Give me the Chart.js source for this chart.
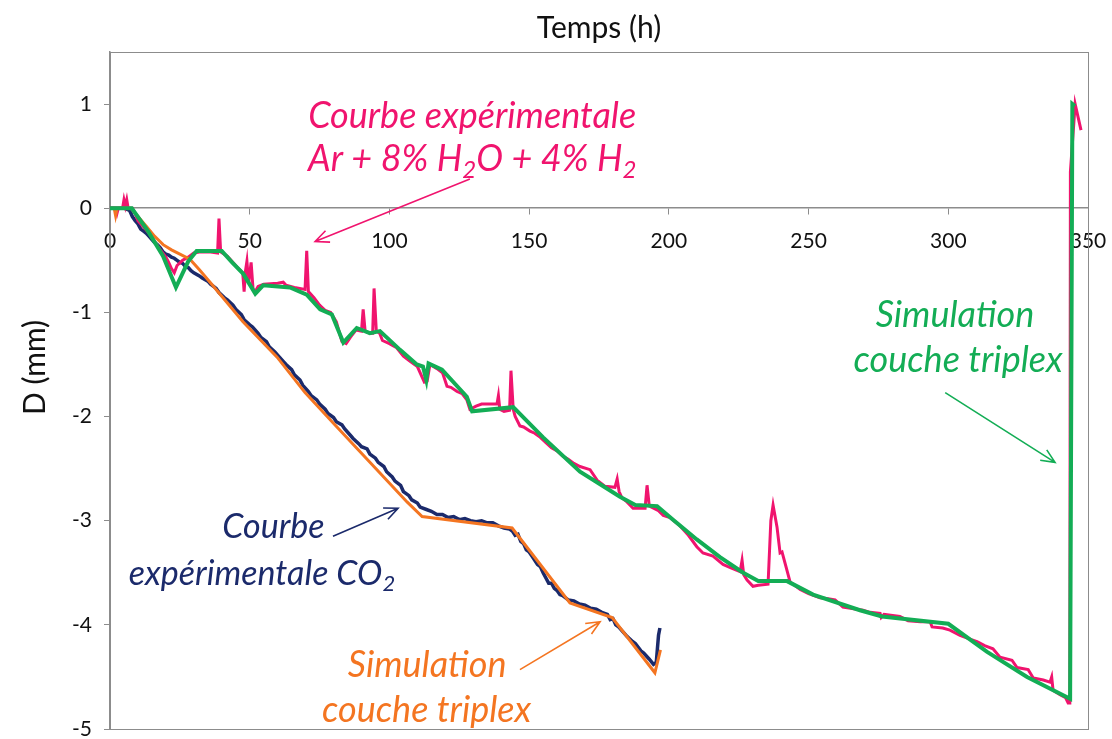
<!DOCTYPE html>
<html>
<head>
<meta charset="utf-8">
<script src="https://cdn.jsdelivr.net/npm/chart.js"></script>
<style>
  body { margin: 0; background: #ffffff; }
</style>
</head>
<body>
<canvas id="chart" width="1112" height="739"></canvas>
<script>
// tick labels
const timeTicks = [0, 50, 100, 150, 200, 250, 300, 350];
const depthTicks = [-5, -4, -3, -2, -1, 0, 1];

// [temps (h), D (mm)]
const simAr = [[0,0],[7.8,0],[13.6,-0.22],[19,-0.46],[23.6,-0.76],[28,-0.51],[31,-0.41],[40,-0.41],[43.7,-0.52],[47.7,-0.63],[52,-0.82],[54.8,-0.74],[64.4,-0.76],[70.4,-0.83],[75.2,-0.97],[79.4,-1.02],[83.5,-1.29],[88.3,-1.15],[93,-1.2],[96.6,-1.18],[103.8,-1.36],[109.8,-1.5],[112,-1.52],[113.2,-1.65],[114,-1.49],[118.8,-1.55],[127.7,-1.81],[129.6,-1.95],[144.3,-1.91],[155,-2.2],[168.2,-2.53],[175.4,-2.65],[182.5,-2.77],[188,-2.85],[195.8,-2.86],[201.5,-2.99],[210,-3.18],[218.3,-3.35],[226.6,-3.5],[232,-3.58],[242.3,-3.58],[251.6,-3.71],[268.4,-3.86],[276.3,-3.92],[300,-3.99],[313.9,-4.26],[328.2,-4.5],[343.6,-4.71],[344.4,1.0],[345.3,0.98]];

const expAr = [[0,0],[2,0],[2.5,-0.05],[3,0],[4.5,0],[5,0.08],[5.5,0.02],[6,0.08],[6.5,0],[8,0],[9,-0.05],[10,-0.12],[12,-0.18],[14,-0.24],[16,-0.32],[18,-0.4],[20,-0.47],[21,-0.52],[22,-0.58],[23,-0.62],[24,-0.55],[26,-0.5],[28,-0.47],[30,-0.43],[32,-0.42],[36,-0.42],[38.5,-0.43],[39,-0.1],[39.6,-0.42],[42,-0.46],[44,-0.52],[46,-0.58],[47.5,-0.62],[48,-0.8],[48.5,-0.6],[49,-0.51],[49.6,-0.72],[50.5,-0.52],[51.2,-0.78],[52,-0.8],[53,-0.75],[55,-0.73],[60,-0.72],[62,-0.71],[63,-0.74],[66,-0.76],[69.8,-0.78],[70.4,-0.41],[71,-0.8],[73,-0.86],[75,-0.93],[77,-0.98],[79,-1.0],[81,-1.09],[83,-1.28],[84.5,-1.3],[86,-1.24],[88,-1.17],[90,-1.18],[90.6,-0.97],[91.3,-1.18],[93,-1.2],[94,-1.2],[94.5,-0.77],[95.3,-1.18],[96.5,-1.2],[97.5,-1.27],[100,-1.3],[102.6,-1.34],[105,-1.42],[107.4,-1.47],[110,-1.52],[112.5,-1.67],[113.5,-1.66],[114.5,-1.5],[117,-1.54],[119,-1.58],[120.6,-1.71],[122,-1.72],[124.2,-1.76],[126,-1.78],[127.7,-1.84],[128.8,-1.93],[131,-1.9],[133,-1.88],[136,-1.88],[138.5,-1.88],[139,-1.8],[139.5,-1.93],[141,-1.95],[143,-1.94],[143.5,-1.56],[144.3,-1.93],[145,-2.0],[146.7,-2.09],[148,-2.1],[150.3,-2.14],[152,-2.16],[154,-2.2],[156,-2.25],[158,-2.3],[160,-2.33],[162,-2.38],[164,-2.41],[166,-2.45],[168.2,-2.48],[171.8,-2.51],[174.3,-2.61],[177.2,-2.67],[180.7,-2.68],[181.5,-2.6],[182.2,-2.72],[183.2,-2.78],[185,-2.82],[187.2,-2.88],[191.5,-2.88],[192.2,-2.66],[193,-2.86],[196.1,-2.9],[198,-2.95],[200.4,-2.97],[204,-3.05],[207,-3.14],[210,-3.25],[212.2,-3.31],[215.8,-3.34],[219.4,-3.42],[222,-3.45],[225.5,-3.49],[226.2,-3.38],[226.8,-3.52],[228,-3.57],[230.1,-3.63],[232,-3.62],[235.5,-3.61],[236.5,-3.0],[237.3,-2.85],[238.7,-3.06],[239.8,-3.31],[240.5,-3.3],[241.6,-3.41],[243.4,-3.59],[245,-3.62],[247,-3.66],[250,-3.7],[254.1,-3.74],[257,-3.75],[259.5,-3.76],[262.3,-3.83],[265,-3.84],[269.5,-3.86],[272,-3.88],[275.6,-3.89],[276,-3.93],[277,-3.9],[282.7,-3.92],[285.6,-3.96],[290,-3.97],[293.5,-3.97],[294.2,-4.02],[298,-4.03],[300.6,-4.05],[304.2,-4.1],[308,-4.14],[310.3,-4.16],[313,-4.2],[316,-4.23],[318.5,-4.31],[322.8,-4.34],[324.6,-4.41],[328.6,-4.43],[330.4,-4.51],[334,-4.53],[336.4,-4.55],[337,-4.5],[337.5,-4.63],[340,-4.67],[342,-4.7],[342.9,-4.75],[343.5,-4.75],[343.7,0.35],[345.4,1.0],[347.5,0.75]];

const simCO2 = [[0,0],[1.5,0],[2,-0.07],[2.5,0],[7.5,0],[10,-0.08],[13.2,-0.18],[16,-0.27],[19,-0.35],[22,-0.4],[25,-0.44],[28.6,-0.49],[32,-0.59],[35.8,-0.71],[47.6,-1.09],[59.8,-1.43],[69.8,-1.77],[79.8,-2.06],[106.3,-2.82],[111.7,-2.96],[143.9,-3.07],[164.6,-3.79],[179.7,-3.93],[195,-4.46],[197,-4.24]];

const expCO2 = [[0,0],[5,0],[7,-0.02],[8,-0.08],[9,-0.12],[10,-0.15],[11,-0.2],[12,-0.22],[13,-0.24],[14,-0.27],[15,-0.3],[16,-0.33],[17,-0.35],[18,-0.38],[19,-0.42],[20,-0.44],[21,-0.45],[22,-0.47],[23,-0.48],[24,-0.5],[25,-0.52],[26,-0.53],[27,-0.56],[28,-0.57],[29,-0.6],[30,-0.62],[32,-0.65],[33,-0.67],[35,-0.7],[36,-0.73],[38,-0.77],[39,-0.81],[41,-0.86],[42,-0.88],[44,-0.93],[45,-0.97],[47,-1.02],[48,-1.07],[50,-1.12],[51,-1.14],[53,-1.2],[54,-1.24],[56,-1.28],[57,-1.33],[59,-1.38],[60,-1.41],[62,-1.47],[63,-1.5],[65,-1.55],[66,-1.6],[68,-1.65],[69,-1.7],[71,-1.76],[72,-1.8],[74,-1.84],[75,-1.88],[77,-1.93],[78,-1.97],[80,-2.01],[81,-2.05],[83,-2.08],[84,-2.12],[86,-2.18],[87,-2.21],[89,-2.26],[90,-2.29],[92,-2.31],[93,-2.36],[95,-2.4],[96,-2.44],[98,-2.48],[99,-2.53],[101,-2.58],[102,-2.62],[104,-2.66],[105,-2.72],[107,-2.76],[108,-2.8],[110,-2.83],[111,-2.87],[113,-2.89],[115,-2.91],[117,-2.94],[119,-2.94],[121,-2.97],[123,-2.96],[125,-2.99],[127,-2.98],[129,-3.0],[131,-3.01],[133,-3.0],[135,-3.02],[137,-3.02],[139,-3.05],[141,-3.07],[143,-3.08],[144,-3.1],[145,-3.14],[146,-3.13],[147,-3.2],[148,-3.22],[149,-3.28],[150,-3.3],[151,-3.34],[152,-3.38],[153,-3.42],[154,-3.44],[155,-3.5],[156,-3.55],[157,-3.6],[158,-3.6],[159,-3.65],[160,-3.67],[161,-3.71],[162,-3.72],[164,-3.76],[166,-3.77],[168,-3.8],[170,-3.81],[172,-3.84],[174,-3.85],[176,-3.88],[178,-3.9],[179,-3.95],[180,-3.94],[181,-4.0],[182,-4.02],[184,-4.08],[185,-4.11],[187,-4.16],[188,-4.18],[190,-4.25],[191,-4.27],[193,-4.33],[194.5,-4.38],[195.5,-4.36],[196.3,-4.1],[196.8,-4.03]];

const PINK = "#f0146e";
const GREEN = "#13ad55";
const NAVY = "#1b2a6b";
const ORANGE = "#f47521";
const AXIS = "#8c8c8c";
const FONT = "Lato";

// text labels + arrows, placed in data units
const notes = [
  { color: PINK, size: 36, lines: [[129.6, 0.885, [["Courbe expérimentale", 0]]],
                         [129.6, 0.47, [["Ar + 8% H", 0], ["2", 1], ["O + 4% H", 0], ["2", 1]]]],
    arrow: [128.8, 0.28, 73.4, -0.32] },
  { color: GREEN, size: 36, lines: [[302.4, -1.03, [["Simulation", 0]]],
                          [303.5, -1.46, [["couche triplex", 0]]]],
    arrow: [298.9, -1.77, 338.2, -2.44] },
  { color: NAVY, size: 34, lines: [[58.5, -3.06, [["Courbe", 0]]],
                         [54.4, -3.51, [["expérimentale CO", 0], ["2", 1]]]],
    arrow: [79.8, -3.15, 103.1, -2.88] },
  { color: ORANGE, size: 36, lines: [[113.5, -4.39, [["Simulation", 0]]],
                           [113.3, -4.82, [["couche triplex", 0]]]],
    arrow: [146.7, -4.43, 175.4, -3.97] },
];

function drawRuns(ctx, runs, cx, cy, size, color) {
  const main = "italic " + size + "px " + FONT;
  const small = "italic " + Math.round(size * 0.66) + "px " + FONT;
  let w = 0;
  runs.forEach(([t, s]) => { ctx.font = s ? small : main; w += ctx.measureText(t).width; });
  let x = cx - w / 2;
  ctx.fillStyle = color;
  ctx.textAlign = "left";
  ctx.textBaseline = "middle";
  runs.forEach(([t, s]) => {
    ctx.font = s ? small : main;
    ctx.fillText(t, x, s ? cy + size * 0.3 : cy);
    x += ctx.measureText(t).width;
  });
}

function drawArrow(ctx, x1, y1, x2, y2, color) {
  const a = Math.atan2(y2 - y1, x2 - x1), h = 15, sp = 0.42;
  ctx.strokeStyle = color;
  ctx.lineWidth = 1.6;
  ctx.beginPath();
  ctx.moveTo(x1, y1);
  ctx.lineTo(x2, y2);
  ctx.moveTo(x2 - h * Math.cos(a - sp), y2 - h * Math.sin(a - sp));
  ctx.lineTo(x2, y2);
  ctx.lineTo(x2 - h * Math.cos(a + sp), y2 - h * Math.sin(a + sp));
  ctx.stroke();
}

const notesPlugin = {
  id: "notes",
  beforeDatasetsDraw(chart) {
    const { ctx, chartArea: a } = chart;
    ctx.save();
    // plot frame
    ctx.strokeStyle = AXIS;
    ctx.lineWidth = 1;
    ctx.strokeRect(a.left + 0.5, a.top + 0.5, a.right - a.left, a.bottom - a.top);
    // y axis title, sits a bit above the middle like the original
    ctx.translate(35, (a.top + a.bottom) / 2 - 23);
    ctx.rotate(-Math.PI / 2);
    ctx.fillStyle = "#111";
    ctx.font = "30px " + FONT;
    ctx.textAlign = "center";
    ctx.textBaseline = "middle";
    ctx.fillText("D (mm)", 0, 0);
    ctx.restore();
  },
  afterDatasetsDraw(chart) {
    const { ctx, scales: { x, y } } = chart;
    ctx.save();
    notes.forEach(n => {
      n.lines.forEach(([lx, ly, runs]) => drawRuns(ctx, runs, x.getPixelForValue(lx), y.getPixelForValue(ly), n.size, n.color));
      const [ax1, ay1, ax2, ay2] = n.arrow;
      drawArrow(ctx, x.getPixelForValue(ax1), y.getPixelForValue(ay1), x.getPixelForValue(ax2), y.getPixelForValue(ay2), n.color);
    });
    ctx.restore();
  }
};

function series(data, color, width) {
  return { data: data, borderColor: color, backgroundColor: color, borderWidth: width,
           pointRadius: 0, tension: 0, fill: false };
}

function noPad(s) {
  s.paddingLeft = 0; s.paddingRight = 0; s.paddingTop = 0; s.paddingBottom = 0;
}

new Chart(document.getElementById("chart"), {
  type: "line",
  data: {
    datasets: [
      series(simAr, GREEN, 4),
      series(simCO2, ORANGE, 3),
      series(expAr, PINK, 3),
      series(expCO2, NAVY, 3.5),
    ],
  },
  options: {
    responsive: false,
    devicePixelRatio: 1,
    animation: false,
    layout: { padding: { left: 0, right: 24, bottom: 10, top: 0 } },
    plugins: {
      legend: { display: false },
      tooltip: { enabled: false },
      title: {
        display: true,
        fullSize: false,
        text: "Temps (h)",
        color: "#111",
        font: { family: FONT, size: 30, weight: "normal" },
        padding: { top: 10, bottom: 6 },
      },
    },
    scales: {
      x: {
        type: "linear",
        position: { y: 0 },
        min: 0,
        max: 350,
        afterBuildTicks: s => { s.ticks = timeTicks.map(v => ({ value: v })); },
        afterFit: noPad,
        ticks: { color: "#111", font: { family: FONT, size: 21 }, padding: 14, maxRotation: 0 },
        grid: { drawOnChartArea: false, drawTicks: true, tickLength: 6, color: AXIS },
        border: { color: AXIS, width: 1.5 },
      },
      y: {
        type: "linear",
        min: -5,
        max: 1.5,
        afterBuildTicks: s => { s.ticks = depthTicks.map(v => ({ value: v })); },
        afterFit: s => { s.width = 110; noPad(s); },
        ticks: { color: "#111", font: { family: FONT, size: 21 }, padding: 12 },
        grid: { drawOnChartArea: false, drawTicks: true, tickLength: 6, color: AXIS },
        border: { color: AXIS, width: 1.5 },
      },
    },
  },
  plugins: [notesPlugin],
});
</script>
</body>
</html>
